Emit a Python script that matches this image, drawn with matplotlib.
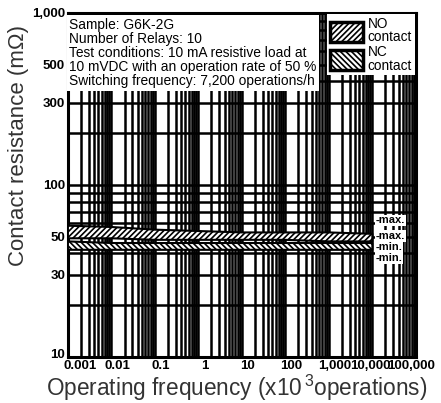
import numpy as np
import matplotlib
matplotlib.use("Agg")
import matplotlib.pyplot as plt
from matplotlib.patches import Patch
from matplotlib.transforms import ScaledTranslation

plt.rcParams['font.family'] = ['Liberation Sans', 'DejaVu Sans']
plt.rcParams['mathtext.fontset'] = 'custom'
plt.rcParams['mathtext.rm'] = 'Liberation Sans'
plt.rcParams['hatch.linewidth'] = 1.2

# data
ops = [0.001, 0.01, 0.1, 1, 10, 100, 1000, 10000]
no_max = [58, 57, 55, 54, 53, 53, 53, 52]
no_min = [49, 49, 48, 48, 48, 48, 47, 47]
nc_max = [47, 46, 46, 46, 46, 46, 46, 46]
nc_min = [42, 42, 42, 42, 42, 42, 42, 42]

x_ticks = [0.001, 0.01, 0.1, 1, 10, 100, 1000, 10000, 100000]
x_labels = ['0.001', '0.01', '0.1', '1', '10', '100', '1,000', '10,000', '100,000']
y_ticks = [10, 30, 50, 100, 300, 500, 1000]
y_labels = ['10', '30', '50', '100', '300', '500', '1,000']

note = ("Sample: G6K-2G\n"
        "Number of Relays: 10\n"
        "Test conditions: 10 mA resistive load at\n"
        "10 mVDC with an operation rate of 50 %\n"
        "Switching frequency: 7,200 operations/h")

fig = plt.figure(figsize=(4.41, 4.03), dpi=100)
ax = fig.add_axes([0.154, 0.114, 0.789, 0.854])
ax.set_xscale('log')
ax.set_yscale('log')
ax.set_xlim(0.001, 100000)
ax.set_ylim(10, 1000)

# heavy grid like the scanned datasheet
ax.grid(True, which='both', color='black', linewidth=1.8)
ax.set_axisbelow(True)

ax.fill_between(ops, no_min, no_max, facecolor='white', edgecolor='black',
                hatch='//////', linewidth=1.5, zorder=3)
ax.fill_between(ops, nc_min, nc_max, facecolor='white', edgecolor='black',
                hatch='\\\\\\\\\\\\', linewidth=1.5, zorder=3)

ax.set_xticks(x_ticks)
ax.set_xticklabels(x_labels)
ax.set_yticks(y_ticks)
ax.set_yticklabels(y_labels)
ax.tick_params(which='both', length=0, labelsize=9.5, pad=2)
ax.tick_params(axis='x', pad=2)
for lab in ax.get_xticklabels() + ax.get_yticklabels():
    lab.set_fontweight('bold')

def shift(lab, dx, dy):
    lab.set_transform(lab.get_transform() + ScaledTranslation(dx / 100, dy / 100, fig.dpi_scale_trans))

xl = ax.get_xticklabels()
for lab in xl[:7]:
    shift(lab, 6, 0)
shift(xl[0], 6, 0)
shift(xl[7], -2, 0)
shift(xl[8], -5, 0)
shift(ax.get_yticklabels()[0], 0, 4)

for s in ax.spines.values():
    s.set_linewidth(2.2)

fig.text(237 / 441, 1 - 388 / 403, 'Operating frequency (x10$^{\\,3}$operations)',
         fontsize=16.3, color='#333333', ha='center', va='center')
fig.text(19 / 441, 1 - 146 / 403, 'Contact resistance (m\u03a9)', rotation=90,
         fontsize=16, color='#333333', ha='center', va='center')

ax.text(0.004, 0.985, note, transform=ax.transAxes, ha='left', va='top',
        fontsize=9.9, linespacing=1.0, zorder=5,
        bbox=dict(facecolor='white', edgecolor='none', pad=2))

handles = [Patch(facecolor='white', edgecolor='black', hatch='//////', linewidth=2.5),
           Patch(facecolor='white', edgecolor='black', hatch='\\\\\\\\\\\\', linewidth=2.5)]
leg = ax.legend(handles, ['NO\ncontact', 'NC\ncontact'], loc='upper right',
                fontsize=9.8, handlelength=2.4, handleheight=1.85, handletextpad=0.35,
                borderpad=0.2, labelspacing=0.05, borderaxespad=0.1,
                fancybox=False, framealpha=1, edgecolor='none')
for t in leg.get_texts():
    t.set_linespacing(0.95)
leg.set_zorder(6)

for yv, txt in zip([62.5, 50.5, 43.6, 37.6], ['max.', 'max.', 'min.', 'min.']):
    ax.text(12000, yv, '-' + txt, fontsize=8, fontweight='bold', ha='left', va='center',
            zorder=5, bbox=dict(facecolor='white', edgecolor='none', pad=0.4))

fig.savefig('out.png', dpi=100)
